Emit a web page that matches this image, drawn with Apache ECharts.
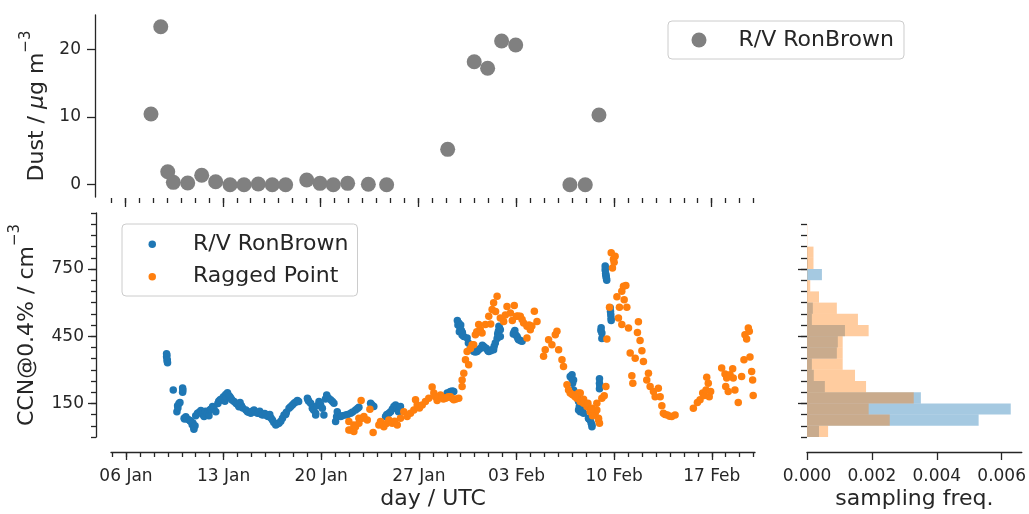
<!DOCTYPE html>
<html>
<head>
<meta charset="utf-8">
<script src="https://cdn.jsdelivr.net/npm/echarts@6/dist/echarts.min.js"></script>
<style>
  html, body { margin: 0; padding: 0; background: #fff; }
  #chart { width: 1029px; height: 514px; }
</style>
</head>
<body>
<div id="chart"></div>
<script>
// ---- data: x values are days since 2020-01-06 00:00 UTC ----
const dustDay = [1.86, 2.56, 3.06, 3.46, 4.49, 5.49, 6.49, 7.52, 8.52, 9.54, 10.54, 11.50, 13.01, 13.96, 14.91, 15.94, 17.42, 18.73, 23.10, 25.00, 25.96, 26.96, 27.97, 31.85, 32.95, 33.93];
const dustVal = [10.43, 23.3, 1.92, 0.35, 0.25, 1.39, 0.44, 0.0, 0.0, 0.1, 0.0, 0.0, 0.69, 0.2, 0.0, 0.2, 0.06, 0.0, 5.22, 18.14, 17.17, 21.2, 20.6, 0.0, 0.0, 10.28];

const ronDay = [2.91, 2.91, 2.93, 2.95, 2.96, 2.98, 3.39, 3.65, 3.70, 3.72, 3.80, 3.87, 4.06, 4.06, 4.08, 4.17, 4.20, 4.29, 4.40, 4.53,
  4.60, 4.65, 4.75, 4.80, 4.85, 4.87, 4.95, 5.00, 5.13, 5.25, 5.37, 5.50, 5.60, 5.70, 5.85, 5.95, 6.01, 6.10, 6.21, 6.30,
  6.44, 6.59, 6.65, 6.75, 6.85, 6.99, 7.09, 7.15, 7.20, 7.28, 7.37, 7.45, 7.52, 7.60, 7.75, 7.90, 8.04, 8.10, 8.18, 8.28,
  8.37, 8.60, 8.71, 8.80, 8.95, 9.05, 9.18, 9.30, 9.43, 9.50, 9.59, 9.70, 9.79, 9.85, 9.95, 10.05, 10.14, 10.20, 10.31, 10.40,
  10.50, 10.60, 10.74, 10.85, 10.97, 11.10, 11.22, 11.33, 11.45, 11.50, 11.69, 11.80, 11.93, 12.05, 12.15, 12.29, 12.38, 13.01, 13.05, 13.10,
  13.24, 13.36, 13.45, 13.60, 13.60, 13.70, 13.84, 13.95, 14.08, 14.19, 14.30, 14.39, 14.50, 14.67, 14.80, 14.91, 15.03, 15.10, 15.15, 15.39,
  15.50, 15.75, 15.90, 16.11, 16.25, 16.46, 16.60, 16.70, 17.54, 17.60, 17.70, 17.77, 18.61, 18.70, 18.85, 18.97, 19.10, 19.21, 19.33, 19.45,
  19.54, 19.60, 19.68, 23.03, 23.15, 23.26, 23.40, 23.50, 23.76, 23.80, 23.86, 23.90, 23.94, 24.00, 24.05, 24.10, 24.12, 24.22, 24.46, 24.55,
  24.70, 24.80, 24.93, 25.05, 25.17, 25.29, 25.40, 25.55, 25.65, 25.75, 25.84, 25.95, 26.01, 26.15, 26.25, 26.36, 26.40, 26.48, 26.61, 26.65,
  26.70, 26.74, 26.78, 26.84, 26.84, 27.77, 27.82, 27.88, 27.95, 28.04, 28.10, 28.15, 28.30, 28.40, 31.85, 31.92, 31.98, 32.02, 32.09, 32.09,
  32.15, 32.25, 32.33, 32.40, 32.45, 32.45, 32.50, 32.57, 32.62, 32.69, 32.75, 32.81, 33.16, 33.20, 33.28, 33.35, 33.41, 33.41, 33.95, 33.95,
  33.95, 33.97, 34.05, 34.07, 34.12, 34.12, 34.36, 34.36, 34.38, 34.39, 34.41, 34.43, 34.45, 34.47, 34.72, 34.74, 34.76, 34.78, 34.79];
const ronCCN = [372, 358, 365, 340, 345, 332, 210, 113, 140, 130, 150, 154, 219, 200, 210, 84, 80, 90, 80, 76,
  72, 69, 55, 62, 45, 35, 50, 95, 106, 110, 118, 100, 91, 115, 106, 95, 120, 125, 136, 128,
  113, 150, 160, 166, 170, 180, 160, 190, 175, 198, 185, 180, 173, 165, 158, 150, 143, 135, 154, 140,
  130, 120, 113, 110, 106, 115, 121, 110, 106, 108, 115, 102, 98, 100, 105, 98, 94, 92, 100, 85,
  76, 65, 54, 58, 61, 70, 84, 98, 100, 110, 128, 135, 143, 151, 155, 163, 158, 173, 166, 160,
  151, 128, 120, 106, 98, 140, 158, 145, 128, 98, 170, 188, 175, 166, 158, 151, 69, 90, 113, 91,
  95, 98, 100, 106, 112, 121, 127, 133, 151, 145, 140, 136, 91, 100, 106, 113, 125, 136, 143, 130,
  113, 120, 136, 196, 198, 203, 205, 203, 520, 500, 509, 470, 490, 500, 475, 455, 466, 449, 442, 420,
  400, 390, 382, 380, 382, 390, 395, 410, 404, 398, 395, 385, 382, 385, 390, 390, 405, 420, 440, 460,
  472, 494, 485, 479, 449, 460, 468, 475, 455, 449, 440, 434, 430, 427, 270, 265, 278, 240, 255, 210,
  200, 190, 180, 170, 158, 121, 135, 113, 118, 121, 110, 106, 84, 80, 76, 62, 54, 46, 260, 240,
  215, 230, 475, 488, 464, 440, 763, 745, 755, 730, 722, 715, 708, 700, 577, 560, 546, 530, 520];

const rpDay = [15.98, 15.98, 16.11, 16.34, 16.34, 16.46, 16.70, 16.70, 16.86, 16.94, 17.06, 17.30, 17.49, 17.72, 18.13, 18.25, 18.49, 18.68, 18.85, 19.09,
  19.26, 19.45, 19.68, 19.92, 20.16, 20.40, 20.64, 20.76, 20.88, 21.04, 21.24, 21.47, 21.71, 21.95, 22.07, 22.19, 22.31, 22.55, 22.76, 22.91,
  23.12, 23.26, 23.50, 23.66, 23.86, 24.10, 24.10, 24.22, 24.34, 24.46, 24.57, 24.82, 24.93, 25.05, 25.29, 25.53, 25.77, 26.01, 26.25, 26.36,
  26.61, 26.84, 27.08, 27.32, 27.56, 27.84, 27.99, 28.27, 28.51, 28.75, 28.75, 28.99, 29.28, 29.47, 29.94, 30.06, 30.30, 30.54, 30.78, 30.90,
  31.02, 31.26, 31.37, 31.62, 31.73, 31.85, 32.09, 32.33, 32.45, 32.57, 32.57, 32.81, 32.81, 33.05, 33.12, 33.28, 33.41, 33.52, 33.64, 33.76,
  33.76, 33.88, 33.88, 33.95, 34.12, 34.29, 34.41, 34.48, 34.67, 34.79, 34.88, 34.95, 35.07, 35.20, 35.31, 35.38, 35.55, 35.55, 35.67, 35.72,
  35.84, 35.91, 36.03, 36.15, 36.27, 36.34, 36.51, 36.67, 36.74, 36.86, 36.99, 37.10, 37.34, 37.46, 37.58, 37.82, 37.94, 38.17, 38.30, 38.42,
  38.53, 38.65, 38.82, 38.98, 39.13, 39.37, 40.68, 40.97, 41.16, 41.35, 41.45, 41.59, 41.64, 41.75, 41.82, 41.92, 42.71, 42.95, 43.00, 43.07,
  43.18, 43.31, 43.50, 43.54, 43.66, 43.90, 44.14, 44.31, 44.38, 44.50, 44.62, 44.69, 44.74, 44.86, 44.93, 44.97,
  22.40, 22.65, 23.00, 23.40, 24.70, 25.15, 25.40, 26.15, 26.50, 27.20, 27.70, 28.10, 28.40, 28.90, 29.10, 32.00, 32.20, 33.35, 33.45, 35.00];
const rpCCN = [31, 69, 31, 24, 54, 46, 84, 61, 163, 84, 91, 76, 124, 20, 54, 69, 46, 60, 76, 61,
  70, 54, 84, 113, 91, 106, 121, 166, 143, 130, 143, 158, 173, 223, 196, 180, 163, 188, 170, 173,
  180, 180, 166, 170, 173, 225, 255, 285, 345, 382, 322, 412, 412, 457, 502, 464, 502, 539, 569, 599,
  628, 531, 516, 583, 554, 587, 539, 539, 509, 494, 442, 479, 561, 516, 360, 390, 434, 412, 457, 472,
  390, 345, 315, 233, 210, 196, 188, 173, 196, 158, 196, 168, 151, 136, 151, 113, 128, 106, 106, 151,
  121, 84, 76, 61, 173, 184, 225, 437, 579, 823, 755, 793, 807, 626, 531, 579, 651, 502, 673, 613,
  676, 579, 487, 375, 273, 240, 352, 467, 514, 431, 385, 337, 255, 285, 225, 203, 180, 218, 180, 140,
  106, 100, 98, 93, 91, 98, 128, 154, 166, 196, 185, 210, 267, 240, 180, 203, 308, 281, 225, 263,
  203, 278, 305, 263, 210, 154, 270, 345, 457, 437, 487, 472, 357, 292, 255, 185,
  175, 178, 176, 172, 395, 470, 480, 505, 560, 545, 520, 540, 525, 500, 495, 190, 180, 120, 95, 780];

// histogram (density per cm^-3), bins of 50 cm^-3 from 0 to 950
const binEdges = [0, 50, 100, 150, 200, 250, 300, 350, 400, 450, 500, 550, 600, 650, 700, 750, 800, 850, 900, 950];
const ronFreq = [0.00037, 0.00529, 0.00628, 0.00351, 0.00055, 0.00021, 0.00015, 0.00092, 0.00095, 0.00117, 0.00015, 0.00018, 0.00001, 0.00001, 0.00046, 0.00002, 0.00001, 0.0, 0.0];
const rpFreq = [0.00065, 0.00255, 0.0019, 0.00329, 0.00182, 0.00148, 0.0011, 0.0011, 0.0011, 0.0019, 0.00157, 0.00092, 0.00037, 0.0001, 0.00001, 0.0002, 0.0002, 0.00001, 0.00001];

// ticks
const majorDays = [0, 7, 14, 21, 28, 35, 42];
const minorDays = [-1, 0, 1, 2, 3, 4, 5, 6, 7, 8, 9, 10, 11, 12, 13, 14, 15, 16, 17, 18, 19, 20, 21, 22, 23, 24, 25, 26, 27, 28, 29, 30, 31, 32, 33, 34, 35, 36, 37, 38, 39, 40, 41, 42, 43, 44, 45];
const dustTicks = [0, 10, 20];
const ccnMajor = [150, 450, 750];
const ccnMinor = [0, 50, 100, 150, 200, 250, 300, 350, 400, 450, 500, 550, 600, 650, 700, 750, 800, 850, 900, 950, 1000];
const histMinor = [0, 50, 100, 150, 200, 250, 300, 350, 400, 450, 500, 550, 600, 650, 700, 750, 800, 850, 900, 950];
const freqTicks = [0, 0.002, 0.004, 0.006];

const BASE = Date.UTC(2020, 0, 6);
const MONTHS = ['Jan', 'Feb', 'Mar', 'Apr', 'May', 'Jun', 'Jul', 'Aug', 'Sep', 'Oct', 'Nov', 'Dec'];
function dayLabel(v) {
  const d = new Date(BASE + Math.round(v) * 86400000);
  return String(d.getUTCDate()).padStart(2, '0') + ' ' + MONTHS[d.getUTCMonth()];
}

const INK = '#262626';
const FONT = 'DejaVu Sans';
const LW = 1.3;
const X_MIN = -1.074, X_MAX = 45.1;

const chart = echarts.init(document.getElementById('chart'), null, { renderer: 'canvas' });

function tickAxisX(grid, ticks, len, offset, extra) {
  return Object.assign({
    gridIndex: grid, type: 'value', position: 'bottom', min: X_MIN, max: X_MAX, offset: offset,
    axisLine: { show: false, onZero: false },
    axisTick: { show: true, length: len, customValues: ticks, lineStyle: { color: INK, width: LW } },
    axisLabel: { show: false, customValues: ticks },
    splitLine: { show: false }
  }, extra || {});
}
function tickAxisY(grid, min, max, ticks, len, offset, extra) {
  return Object.assign({
    gridIndex: grid, type: 'value', position: 'left', min: min, max: max, offset: offset,
    axisLine: { show: false, onZero: false },
    axisTick: { show: true, length: len, customValues: ticks, lineStyle: { color: INK, width: LW } },
    axisLabel: { show: false, customValues: ticks },
    splitLine: { show: false }
  }, extra || {});
}
const spine = { show: true, onZero: false, lineStyle: { color: INK, width: LW } };
const legendBox = { borderColor: '#cccccc', borderWidth: 1, borderRadius: 4, backgroundColor: 'rgba(255,255,255,0.8)' };

const option = {
  animation: false,
  backgroundColor: '#ffffff',
  textStyle: { fontFamily: FONT, color: INK },
  grid: [
    { left: 110, top: 15, width: 645, height: 182 },
    { left: 110, top: 213, width: 645, height: 224 },
    { left: 807, top: 213, width: 215, height: 224 }
  ],
  xAxis: [
    tickAxisX(0, majorDays, 9, 1),
    tickAxisX(0, minorDays, 5, 1),
    tickAxisX(1, majorDays, 8, 15, {
      axisLine: spine,
      axisLabel: { show: true, customValues: majorDays, formatter: dayLabel, fontSize: 17, margin: 16, color: INK, fontFamily: FONT },
      name: 'day / UTC', nameLocation: 'middle', nameGap: 36,
      nameTextStyle: { fontSize: 22, color: INK, fontFamily: FONT }
    }),
    tickAxisX(1, minorDays, 5, 15),
    {
      gridIndex: 2, type: 'value', position: 'bottom', min: 0, max: 0.00662, offset: 15,
      axisLine: spine,
      axisTick: { show: true, length: 8, customValues: freqTicks, lineStyle: { color: INK, width: LW } },
      axisLabel: { show: true, customValues: freqTicks, formatter: v => v.toFixed(3), fontSize: 17, margin: 16, color: INK, fontFamily: FONT },
      splitLine: { show: false },
      name: 'sampling freq.', nameLocation: 'middle', nameGap: 36,
      nameTextStyle: { fontSize: 22, color: INK, fontFamily: FONT }
    }
  ],
  yAxis: [
    tickAxisY(0, -1.81, 25.03, dustTicks, 8, 15, {
      axisLine: spine,
      axisLabel: { show: true, customValues: dustTicks, fontSize: 17, margin: 14, color: INK, fontFamily: FONT },
      name: '{a|Dust / }{i|μ}{a|g m}{s|−3}', nameLocation: 'middle', nameGap: 46,
      nameTextStyle: {
        fontFamily: FONT, color: INK,
        rich: {
          a: { fontSize: 22, lineHeight: 30, fontFamily: FONT, color: INK, verticalAlign: 'bottom' },
          i: { fontSize: 22, lineHeight: 30, fontStyle: 'italic', fontFamily: FONT, color: INK, verticalAlign: 'bottom' },
          s: { fontSize: 15, lineHeight: 15, fontFamily: FONT, color: INK, verticalAlign: 'top' }
        }
      }
    }),
    tickAxisY(1, 0, 1000, ccnMajor, 8, 15, {
      axisLine: spine,
      axisLabel: { show: true, customValues: ccnMajor, fontSize: 17, margin: 12, color: INK, fontFamily: FONT },
      name: '{a|CCN@0.4% / cm}{s|−3}', nameLocation: 'middle', nameGap: 58,
      nameTextStyle: {
        fontFamily: FONT, color: INK,
        rich: {
          a: { fontSize: 22, lineHeight: 30, fontFamily: FONT, color: INK, verticalAlign: 'bottom' },
          s: { fontSize: 15, lineHeight: 15, fontFamily: FONT, color: INK, verticalAlign: 'top' }
        }
      }
    }),
    tickAxisY(1, 0, 1000, ccnMinor, 5, 15),
    tickAxisY(2, 0, 1000, ccnMajor, 9, 0),
    tickAxisY(2, 0, 1000, histMinor, 6, 0)
  ],
  legend: [
    Object.assign({
      data: ['dust'], left: 668, top: 21, orient: 'vertical', icon: 'circle',
      itemWidth: 15, itemHeight: 15, padding: [8, 10, 8, 23.5],
      formatter: () => '{sp|}R/V RonBrown', selectedMode: false,
      textStyle: { fontSize: 22, color: INK, fontFamily: FONT, rich: { sp: { width: 27 } } }
    }, legendBox),
    Object.assign({
      data: ['ron', 'rp'], left: 122, top: 224, orient: 'vertical', icon: 'circle',
      itemWidth: 7.5, itemHeight: 7.5, itemGap: 10.4, padding: [9.3, 9, 8.3, 26.5],
      formatter: n => '{sp|}' + (n === 'ron' ? 'R/V RonBrown' : 'Ragged Point'), selectedMode: false,
      textStyle: { fontSize: 22, color: INK, fontFamily: FONT, rich: { sp: { width: 32 } } }
    }, legendBox)
  ],
  series: [
    {
      name: 'dust', type: 'scatter', xAxisIndex: 0, yAxisIndex: 0, symbolSize: 15,
      itemStyle: { color: '#808080', opacity: 1 },
      data: dustDay.map((d, i) => [d, dustVal[i]])
    },
    {
      name: 'ron', type: 'scatter', xAxisIndex: 2, yAxisIndex: 1, symbolSize: 7.5,
      itemStyle: { color: '#1f77b4', opacity: 1 },
      data: ronDay.map((d, i) => [d, ronCCN[i]])
    },
    {
      name: 'rp', type: 'scatter', xAxisIndex: 2, yAxisIndex: 1, symbolSize: 7.5,
      itemStyle: { color: '#ff7f0e', opacity: 1 },
      data: rpDay.map((d, i) => [d, rpCCN[i]])
    },
    {
      name: 'ronHist', type: 'custom', xAxisIndex: 4, yAxisIndex: 3,
      encode: { x: 2, y: [0, 1] },
      data: ronFreq.map((f, i) => [binEdges[i], binEdges[i] + 50, f]),
      renderItem: function (params, api) {
        const p0 = api.coord([0, api.value(1)]);
        const p1 = api.coord([api.value(2), api.value(0)]);
        return { type: 'rect', shape: { x: p0[0], y: p0[1], width: p1[0] - p0[0], height: p1[1] - p0[1] },
          style: { fill: 'rgba(31,119,180,0.4)' } };
      }
    },
    {
      name: 'rpHist', type: 'custom', xAxisIndex: 4, yAxisIndex: 3,
      encode: { x: 2, y: [0, 1] },
      data: rpFreq.map((f, i) => [binEdges[i], binEdges[i] + 50, f]),
      renderItem: function (params, api) {
        const p0 = api.coord([0, api.value(1)]);
        const p1 = api.coord([api.value(2), api.value(0)]);
        return { type: 'rect', shape: { x: p0[0], y: p0[1], width: p1[0] - p0[0], height: p1[1] - p0[1] },
          style: { fill: 'rgba(255,127,14,0.4)' } };
      }
    }
  ]
};
chart.setOption(option);
</script>
</body>
</html>
